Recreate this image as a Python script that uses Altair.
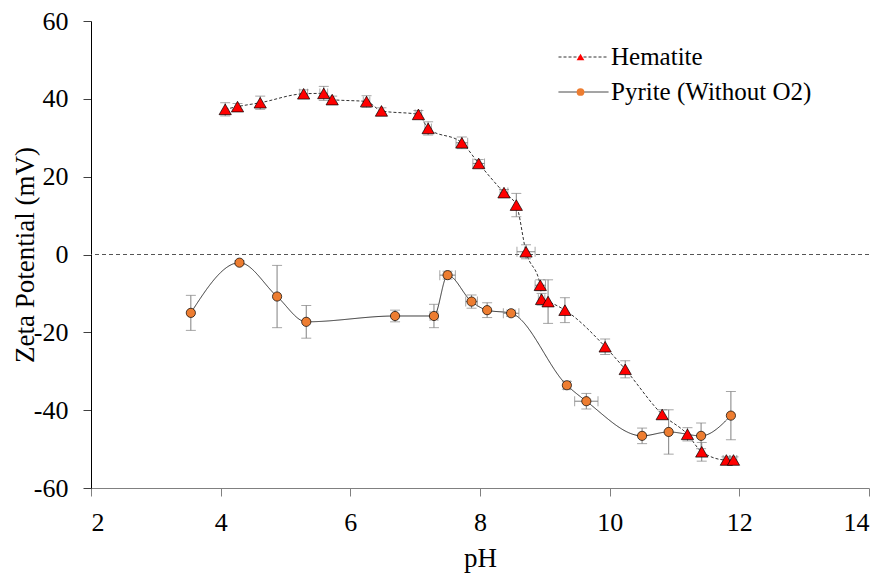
import altair as alt
import pandas as pd

# ---- data ----
hem_ph = [4.07, 4.26, 4.61, 5.28, 5.59, 5.72, 6.25, 6.48, 7.05, 7.20, 7.72, 7.98, 8.37,
          8.56, 8.71, 8.93, 8.95, 9.05, 9.31, 9.93, 10.24, 10.81, 11.20, 11.42, 11.80, 11.91]
hem_zeta = [37.3, 38.0, 39.0, 41.3, 41.4, 39.8, 39.3, 36.9, 36.0, 32.4, 28.7, 23.4, 15.9,
            12.7, 0.7, -7.9, -11.5, -12.1, -14.3, -23.7, -29.5, -41.1, -46.2, -50.7, -52.8, -52.8]
hem_yerr = [1.7, 0.8, 1.7, 1.0, 1.8, 0.9, 1.5, 0.8, 1.0, 1.7, 1.5, 1.0, 0.8,
            3.0, 1.8, 1.4, 1.5, 5.6, 3.2, 2.0, 2.2, 1.2, 1.7, 2.4, 0.8, 0.8]
hem_xerr = [0.0, 0.0, 0.0, 0.06, 0.06, 0.0, 0.05, 0.0, 0.05, 0.05, 0.09, 0.09, 0.06,
            0.0, 0.14, 0.08, 0.05, 0.0, 0.0, 0.0, 0.0, 0.0, 0.0, 0.0, 0.05, 0.05]

pyr_ph = [3.54, 4.29, 4.87, 5.32, 6.69, 7.29, 7.50, 7.87, 8.11, 8.48, 9.34, 9.64,
          10.50, 10.91, 11.41, 11.87]
pyr_zeta = [-15.0, -2.1, -10.8, -17.3, -15.8, -15.8, -5.3, -12.1, -14.3, -15.1, -33.6,
            -37.7, -46.6, -45.6, -46.6, -41.4]
pyr_yerr = [4.5, 0.5, 8.0, 4.2, 1.5, 3.0, 1.0, 1.7, 1.9, 0.8, 1.0, 2.0, 2.0, 5.7, 3.3, 6.2]
pyr_xerr = [0.0, 0.0, 0.0, 0.0, 0.0, 0.06, 0.12, 0.09, 0.0, 0.12, 0.05, 0.18,
            0.0, 0.0, 0.0, 0.0]

series_names = ["Hematite", "Pyrite (Without O2)"]
marker_names = ["Hematite marker", "Pyrite marker"]
x_ticks = [2, 4, 6, 8, 10, 12, 14]
y_ticks = [-60, -40, -20, 0, 20, 40, 60]

hem = pd.DataFrame({"pH": hem_ph, "zeta": hem_zeta, "xerr": hem_xerr, "yerr": hem_yerr})
hem["series"] = series_names[0]
hem["marker"] = marker_names[0]
pyr = pd.DataFrame({"pH": pyr_ph, "zeta": pyr_zeta, "xerr": pyr_xerr, "yerr": pyr_yerr})
pyr["series"] = series_names[1]
pyr["marker"] = marker_names[1]
df = pd.concat([hem, pyr], ignore_index=True)
df["ylo"] = df["zeta"] - df["yerr"]
df["yhi"] = df["zeta"] + df["yerr"]
df["xlo"] = df["pH"] - df["xerr"]
df["xhi"] = df["pH"] + df["xerr"]

FONT = "Liberation Serif"
W, H = 778, 467
LBL = "datum.value < 0 ? '-' + abs(datum.value) : '' + datum.value"

xscale = alt.Scale(domain=[2, 14], nice=False, zero=False)
yscale = alt.Scale(domain=[-60, 60], nice=False, zero=False)
xaxis = alt.Axis(values=x_ticks, grid=False, tickSize=8, labelPadding=13, labelExpr=LBL,
                 labelFont=FONT, titleFont=FONT, labelFontSize=26, titleFontSize=27,
                 titleFontWeight="normal", labelColor="black", titleColor="black",
                 domainColor="#808080", tickColor="#808080",
                 titleX=W / 2, titleY=78, titleBaseline="alphabetic", titleAlign="center")
yaxis = alt.Axis(values=y_ticks, grid=False, tickSize=8, labelPadding=15, labelExpr=LBL,
                 labelFont=FONT, titleFont=FONT, labelFontSize=26, titleFontSize=27,
                 titleFontWeight="normal", labelColor="black", titleColor="black",
                 domainColor="black", tickColor="#404040",
                 titleX=-58, titleY=H / 2, titleBaseline="alphabetic",
                 titleAlign="center", titleAngle=270)
XT = "pH"
YT = "Zeta Potential (mV)"


def X(field):
    return alt.X(f"{field}:Q", scale=xscale, axis=xaxis, title=XT)


def Y(field):
    return alt.Y(f"{field}:Q", scale=yscale, axis=yaxis, title=YT)


base = alt.Chart(df)
ERR = "#808080"

zero = alt.Chart(pd.DataFrame({"zeta": [0.0]})).mark_rule(
    strokeDash=[4, 3], color="#555555", strokeWidth=1).encode(y=Y("zeta"))

vbars = base.mark_rule(color=ERR, strokeWidth=1).encode(x=X("pH"), y=Y("ylo"), y2="yhi:Q")
vcap_lo = base.mark_tick(orient="horizontal", color=ERR, size=10, thickness=1).encode(
    x=X("pH"), y=Y("ylo"))
vcap_hi = base.mark_tick(orient="horizontal", color=ERR, size=10, thickness=1).encode(
    x=X("pH"), y=Y("yhi"))

hb = base.transform_filter("datum.xerr > 0")
hbars = hb.mark_rule(color=ERR, strokeWidth=1).encode(x=X("xlo"), x2="xhi:Q", y=Y("zeta"))
hcap_lo = hb.mark_tick(orient="vertical", color=ERR, size=10, thickness=1).encode(
    x=X("xlo"), y=Y("zeta"))
hcap_hi = hb.mark_tick(orient="vertical", color=ERR, size=10, thickness=1).encode(
    x=X("xhi"), y=Y("zeta"))

LEG_Y = 18.5
ROW_H = 35
line_legend = alt.Legend(orient="none", legendX=467, legendY=LEG_Y, title=None,
                         symbolType="stroke", symbolSize=2500, symbolStrokeWidth=1,
                         symbolStrokeColor="#333333", labelFont=FONT, labelFontSize=25,
                         labelColor="black", labelOffset=2, labelLimit=0,
                         clipHeight=ROW_H, rowPadding=0, padding=0)
lines = base.mark_line(interpolate="monotone", color="#333333", strokeWidth=1).encode(
    x=X("pH"), y=Y("zeta"),
    strokeDash=alt.StrokeDash("series:N",
                              scale=alt.Scale(domain=series_names, range=[[3, 2], [1, 0]]),
                              legend=line_legend),
)

pt_legend = alt.Legend(orient="none", legendX=477, legendY=LEG_Y, title=None,
                       symbolSize=60, symbolStrokeColor="black", symbolStrokeWidth=0.7,
                       labelFont=FONT, labelFontSize=25, labelExpr="''",
                       clipHeight=ROW_H, rowPadding=0, padding=0)
FILL = alt.Fill("marker:N", scale=alt.Scale(domain=marker_names, range=["#FF0000", "#ED7D31"]),
                legend=pt_legend)
SHAPE = alt.Shape("marker:N", scale=alt.Scale(domain=marker_names,
                                              range=["triangle-up", "circle"]),
                  legend=pt_legend)

pts_h = base.transform_filter(alt.datum.marker == marker_names[0]).mark_point(
    filled=True, stroke="black", strokeWidth=0.7, opacity=1, size=150).encode(
    x=X("pH"), y=Y("zeta"), fill=FILL, shape=SHAPE)
pts_p = base.transform_filter(alt.datum.marker == marker_names[1]).mark_point(
    filled=True, stroke="black", strokeWidth=0.7, opacity=1, size=85).encode(
    x=X("pH"), y=Y("zeta"), fill=FILL, shape=SHAPE)

chart = alt.layer(
    zero, lines, vbars, vcap_lo, vcap_hi, hbars, hcap_lo, hcap_hi, pts_h, pts_p
).properties(
    width=W, height=H,
    padding={"left": 83, "top": 13, "right": 10, "bottom": 85},
    autosize=alt.AutoSizeParams(type="none"),
).configure_view(stroke=None).configure_legend(labelFont=FONT)

chart.save("out.html", embed_options={"renderer": "svg", "actions": False})
